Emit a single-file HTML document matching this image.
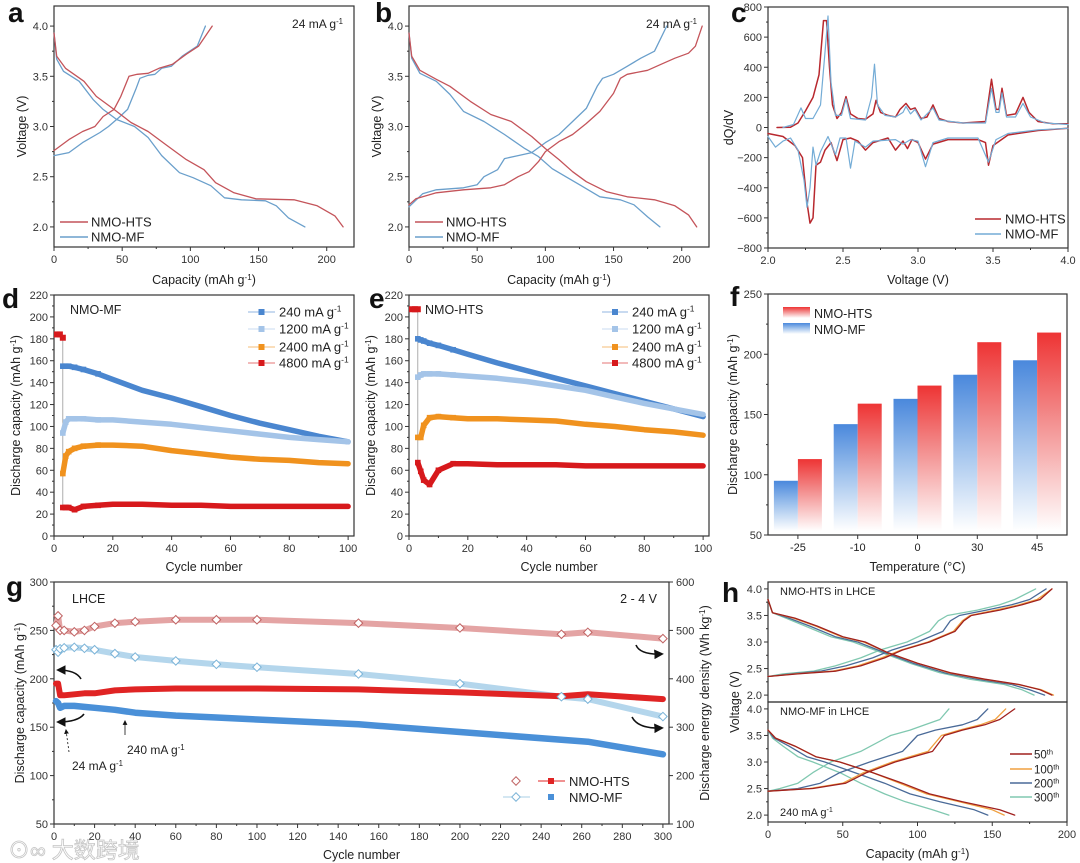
<!DOCTYPE html>
<html><head><meta charset="utf-8"><style>
html,body{margin:0;padding:0;background:#fff;}
svg{display:block;font-family:"Liberation Sans","Noto Sans CJK SC",sans-serif;}
</style></head><body>
<svg id="fig" width="1080" height="863" viewBox="0 0 1080 863" xmlns="http://www.w3.org/2000/svg">
<defs>
<linearGradient id="gRed" x1="0" y1="0" x2="0" y2="1"><stop offset="0" stop-color="#ee3434"/><stop offset="0.45" stop-color="#f39090"/><stop offset="1" stop-color="#ffffff"/></linearGradient>
<linearGradient id="gBlue" x1="0" y1="0" x2="0" y2="1"><stop offset="0" stop-color="#4a88dc"/><stop offset="0.45" stop-color="#9cc0ec"/><stop offset="1" stop-color="#ffffff"/></linearGradient>
<marker id="ah" viewBox="0 0 10 10" refX="8" refY="5" markerWidth="6" markerHeight="6" orient="auto"><path d="M0,0L10,5L0,10z" fill="#111"/></marker>
</defs>
</svg>
<script>
// ---------- DATA ----------
const aHtsChgCap=[0,10.9,21,30,36,44,49,55,61,69,77,87,97,106,116];
const aHtsChgV=[2.76,2.87,2.95,3.0,3.10,3.17,3.30,3.50,3.52,3.53,3.58,3.62,3.72,3.80,4.0];
const aMfChgCap=[0,10.9,21,33.7,40,47.6,54,60,63,69,74,79,86,94,105,111];
const aMfChgV=[2.71,2.74,2.84,2.94,3.0,3.09,3.17,3.37,3.48,3.51,3.52,3.58,3.60,3.70,3.80,4.0];
const aHtsDisCap=[0,2,8.4,22,31,44,56.5,69,82,97,110,118.5,132,148,176,193,206,212];
const aHtsDisV=[3.93,3.70,3.58,3.45,3.30,3.17,3.04,2.95,2.82,2.67,2.57,2.44,2.34,2.28,2.27,2.21,2.11,2.0];
const aMfDisCap=[0,2,7,18.5,28.6,36,46,59,69,79,92,102,115,125,137.5,155,163,172,184];
const aMfDisV=[3.93,3.67,3.55,3.45,3.27,3.17,3.07,3.0,2.89,2.71,2.54,2.49,2.41,2.29,2.27,2.26,2.21,2.09,2.0];
const bHtsChgCap=[0,5,20,40,60,70,80,88,95,100,110,120,130,140,150,155,160,175,185,195,205,210,215];
const bHtsChgV=[2.22,2.28,2.34,2.37,2.39,2.42,2.5,2.55,2.65,2.75,2.85,2.92,3.03,3.15,3.33,3.48,3.52,3.56,3.62,3.68,3.73,3.8,4.0];
const bMfChgCap=[0,10,20,40,50,55,65,70,80,90,100,110,120,130,138,142,150,160,170,180,189];
const bMfChgV=[2.2,2.33,2.37,2.39,2.42,2.5,2.57,2.68,2.71,2.74,2.84,2.92,3.05,3.18,3.4,3.48,3.52,3.6,3.68,3.75,4.0];
const bHtsDisCap=[0,2,8,20,30,45,60,75,90,100,110,120,130,145,160,180,195,205,211];
const bHtsDisV=[3.93,3.7,3.56,3.47,3.4,3.25,3.12,3.05,2.9,2.78,2.67,2.55,2.45,2.35,2.3,2.27,2.21,2.12,2.0];
const bMfDisCap=[0,2,8,20,30,40,55,70,85,95,105,115,125,140,155,165,175,184];
const bMfDisV=[3.93,3.68,3.53,3.45,3.32,3.15,3.05,2.92,2.78,2.7,2.58,2.5,2.42,2.3,2.27,2.22,2.1,2.0];
const cHtsPosV=[2.06,2.15,2.2,2.25,2.3,2.34,2.37,2.39,2.41,2.43,2.46,2.49,2.52,2.55,2.6,2.65,2.7,2.72,2.75,2.8,2.85,2.88,2.92,2.95,2.98,3.02,3.06,3.1,3.14,3.2,3.3,3.45,3.49,3.52,3.54,3.56,3.59,3.65,3.7,3.74,3.8,3.9,4.0];
const cHtsPosQ=[0,2,30,110,200,350,710,710,400,150,60,100,205,90,60,55,90,180,100,80,70,120,160,120,130,60,70,150,60,40,30,40,320,120,120,260,80,90,200,100,40,25,25];
const cMfPosV=[2.1,2.17,2.22,2.25,2.3,2.35,2.38,2.40,2.42,2.45,2.49,2.52,2.55,2.65,2.69,2.71,2.73,2.78,2.85,2.9,2.92,2.95,2.98,3.02,3.1,3.14,3.3,3.45,3.49,3.52,3.54,3.56,3.59,3.65,3.7,3.75,3.85,4.0];
const cMfPosQ=[0,20,130,60,60,150,500,740,300,80,80,190,60,50,200,420,150,80,70,100,140,90,120,50,130,50,30,30,260,100,100,230,70,70,160,70,30,20];
const cHtsNegV=[2.0,2.1,2.18,2.23,2.26,2.28,2.30,2.32,2.35,2.38,2.42,2.46,2.5,2.55,2.6,2.65,2.7,2.8,2.85,2.9,2.93,2.96,3.0,3.05,3.1,3.2,3.4,3.45,3.47,3.5,3.6,3.8,4.0];
const cHtsNegQ=[-40,-60,-120,-200,-500,-635,-600,-250,-230,-150,-100,-220,-80,-70,-90,-150,-100,-70,-150,-90,-140,-80,-100,-210,-110,-80,-80,-100,-250,-120,-50,-20,-5];
const cMfNegV=[2.0,2.05,2.1,2.15,2.2,2.24,2.26,2.28,2.3,2.32,2.35,2.4,2.45,2.48,2.52,2.55,2.58,2.65,2.7,2.85,2.9,2.95,3.0,3.05,3.1,3.2,3.4,3.47,3.52,3.6,3.8,4.0];
const cMfNegQ=[-60,-130,-90,-70,-150,-350,-530,-400,-130,-250,-160,-60,-180,-70,-70,-270,-90,-130,-90,-80,-110,-80,-90,-260,-100,-70,-70,-230,-80,-40,-15,-5];
const rateCycles=[3,4,5,7,10,15,20,30,40,50,60,70,80,90,100];
const initCycles=[1,2,3];
const dInit=[184,184,181];
const d240=[155,155,155,154,152,148,143,133,126,118,110,103,97,91,86];
const d1200=[94,104,107,107,107,106,106,104,102,99,96,93,90,88,86];
const d2400=[57,73,77,80,82,83,83,82,78,75,72,70,69,67,66];
const d4800=[26,26,26,24,27,28,29,29,28,28,27,27,27,27,27];
const eInit=[207,207,207];
const e240=[180,179,178,176,174,170,166,158,151,144,137,130,123,116,109];
const e1200=[145,147,148,148,148,147,146,144,141,137,133,127,121,116,111];
const e2400=[90,90,101,108,109,108,107,107,106,105,102,100,97,95,92];
const e4800=[67,59,51,47,60,66,66,65,65,65,64,64,64,64,64];
const fTemps=["-25","-10","0","30","45"];
const fMf=[95,142,163,183,195];
const fHts=[113,159,174,210,218];
const gCycles=[1,2,3,5,10,15,20,30,40,60,80,100,150,200,250,263,300];
const gHtsE=[510,530,500,500,497,500,508,515,518,522,522,522,515,505,492,496,483];
const gMfE=[460,455,462,464,465,463,460,452,445,437,430,424,410,390,363,358,322];
const gHtsC=[195,195,183,183,184,185,185,188,189,190,190,190,189,186,182,184,179];
const gMfC=[177,175,170,172,172,171,170,168,165,162,160,158,153,145,137,135,122];
const hCycleLabels=["50","100","200","300"];
const hTopChgV=[2.35,2.4,2.45,2.55,2.7,2.85,3.0,3.2,3.4,3.5,3.6,3.7,3.8,4.0];
const hTopChgCap=[[0,20,45,62,78,90,108,125,131,136,155,170,182,190],[0,18,43,60,76,89,107,124,130,135,152,168,180,190],[0,15,35,52,70,83,100,117,122,128,146,163,175,186],[0,10,30,45,62,75,93,108,114,120,140,155,165,179]];
const hTopDisV=[3.8,3.55,3.45,3.3,3.1,3.0,2.8,2.6,2.42,2.3,2.2,2.1,2.0];
const hTopDisCap=[[0,3,18,33,50,65,80,100,122,145,168,182,190],[0,3,17,32,49,64,80,100,121,144,167,183,191],[0,3,14,28,45,60,78,97,118,140,163,175,185],[0,3,12,25,42,57,76,95,115,135,158,170,178]];
const hBotChgV=[2.45,2.5,2.6,2.8,3.0,3.2,3.5,3.6,3.7,3.8,4.0];
const hBotChgCap=[[0,30,52,66,85,110,118,130,145,155,165],[0,28,50,64,83,107,116,128,142,152,159],[0,20,35,48,68,90,100,112,130,140,147],[0,8,20,30,42,62,82,95,105,115,121]];
const hBotDisV=[3.6,3.45,3.3,3.1,3.0,2.8,2.6,2.4,2.25,2.1,2.0];
const hBotDisCap=[[0,5,18,32,48,70,90,108,130,155,165],[0,5,18,32,48,70,88,106,128,150,158],[0,4,14,26,38,58,78,95,115,138,147],[0,3,10,20,30,48,62,78,92,110,121]];

// ---------- HELPERS ----------
const NS="http://www.w3.org/2000/svg";
const svg=document.getElementById('fig');
function mk(tag,a,p){const e=document.createElementNS(NS,tag);for(const k in a)e.setAttribute(k,a[k]);(p||svg).appendChild(e);return e;}
function lin(d0,d1,r0,r1){return v=>r0+(v-d0)/(d1-d0)*(r1-r0);}
function txt(x,y,s,size,anchor,p,extra){
  const t=mk('text',Object.assign({x:x,y:y,'font-size':size,'text-anchor':anchor||'start',fill:'#222'},extra||{}),p);
  const parts=s.split('|');
  parts.forEach((pt,i)=>{if(!pt)return;const ts=mk('tspan',{},t);ts.textContent=pt;
    if(i%2===1){ts.setAttribute('baseline-shift','super');ts.setAttribute('font-size',size*0.65);}});
  return t;
}
function grp(){return mk('g',{});}
function axes(o){
  const g=grp();
  
  
  const sx=lin(o.xd[0],o.xd[1],o.x0,o.x1), sy=lin(o.yd[0],o.yd[1],o.y1,o.y0);
  const fr=mk('rect',{x:o.x0,y:o.y0,width:o.x1-o.x0,height:o.y1-o.y0,fill:'none',stroke:'#333','stroke-width':1.2},g);
  
  
  if(o.xt){o.xt.forEach((v,i)=>{const x=sx(v);mk('line',{x1:x,x2:x,y1:o.y1,y2:o.y1+4,stroke:'#333'},g);
    if(o.xl){const t=txt(x,o.y1+16,o.xl[i],11,'middle',g,{fill:'#333'});}});}
  if(o.xm){o.xm.forEach(v=>{const x=sx(v);mk('line',{x1:x,x2:x,y1:o.y1,y2:o.y1+2,stroke:'#333'},g);});}
  if(o.yt){o.yt.forEach((v,i)=>{const y=sy(v);mk('line',{x1:o.x0-4,x2:o.x0,y1:y,y2:y,stroke:'#333'},g);
    if(o.yl){const t=txt(o.x0-6,y+4,o.yl[i],11,'end',g,{fill:'#333'});}});}
  if(o.ym){o.ym.forEach(v=>{const y=sy(v);mk('line',{x1:o.x0-2,x2:o.x0,y1:y,y2:y,stroke:'#333'},g);});}
  if(o.xtitle){const t=txt((o.x0+o.x1)/2,o.xty,o.xtitle,12.5,'middle',g);}
  if(o.ytitle){const t=txt(0,0,o.ytitle,12.5,'middle',g,{transform:`translate(${o.ytx},${(o.y0+o.y1)/2}) rotate(-90)`});}
  return {sx,sy,g};
}
function curve(ax,xs,ys,color,w,name){
  const d=xs.map((x,i)=>(i?'L':'M')+ax.sx(x).toFixed(1)+','+ax.sy(ys[i]).toFixed(1)).join('');
  const p=mk('path',{d:d,fill:'none',stroke:color,'stroke-width':w||1.3,'stroke-linejoin':'round','stroke-linecap':'round'});
  
  
  return p;
}
function panelLabel(x,y,s){const t=txt(x,y,s,28,'start',svg,{'font-weight':'bold',fill:'#111'});}
function legLine(x1,x2,y,color,label,tx,size){
  const l=mk('line',{x1:x1,x2:x2,y1:y,y2:y,stroke:color,'stroke-width':1.6});
  
  
  const t=txt(tx,y+4.5,label,size||13,'start');
  
  
}
const RED='#c4545a', BLUE='#6a9fcb';

// ---------- PANEL A ----------
panelLabel(8,22,'a');
const axA=axes({name:'panel-a',x0:54,x1:354,y0:6,y1:247,xd:[0,220],yd:[1.8,4.2],xt:[0,50,100,150,200],xl:['0','50','100','150','200'],xm:[25,75,125,175],yt:[2,2.5,3,3.5,4],yl:['2.0','2.5','3.0','3.5','4.0'],ym:[2.25,2.75,3.25,3.75],xtitle:'Capacity (mAh g|-1|)',xty:284,ytitle:'Voltage (V)',ytx:26});
curve(axA,aMfChgCap,aMfChgV,BLUE,1.3,'a-mf-charge');
curve(axA,aMfDisCap,aMfDisV,BLUE,1.3,'a-mf-discharge');
curve(axA,aHtsChgCap,aHtsChgV,RED,1.3,'a-hts-charge');
curve(axA,aHtsDisCap,aHtsDisV,RED,1.3,'a-hts-discharge');
legLine(60,88,222,RED,'NMO-HTS',91);
legLine(60,88,237,BLUE,'NMO-MF',91);
{const t=txt(343,28,'24 mA g|-1|',12,'end');}

// ---------- PANEL B ----------
panelLabel(375,22,'b');
const axB=axes({name:'panel-b',x0:409,x1:709,y0:6,y1:247,xd:[0,220],yd:[1.8,4.2],xt:[0,50,100,150,200],xl:['0','50','100','150','200'],xm:[25,75,125,175],yt:[2,2.5,3,3.5,4],yl:['2.0','2.5','3.0','3.5','4.0'],ym:[2.25,2.75,3.25,3.75],xtitle:'Capacity (mAh g|-1|)',xty:284,ytitle:'Voltage (V)',ytx:381});
curve(axB,bMfChgCap,bMfChgV,BLUE,1.3,'b-mf-charge');
curve(axB,bMfDisCap,bMfDisV,BLUE,1.3,'b-mf-discharge');
curve(axB,bHtsChgCap,bHtsChgV,RED,1.3,'b-hts-charge');
curve(axB,bHtsDisCap,bHtsDisV,RED,1.3,'b-hts-discharge');
legLine(415,443,222,RED,'NMO-HTS',446);
legLine(415,443,237,BLUE,'NMO-MF',446);
{const t=txt(697,28,'24 mA g|-1|',12,'end');}

// ---------- PANEL C ----------
panelLabel(731,22,'c');
const axC=axes({name:'panel-c',x0:768,x1:1068,y0:7,y1:248,xd:[2,4],yd:[-800,800],xt:[2,2.5,3,3.5,4],xl:['2.0','2.5','3.0','3.5','4.0'],xm:[2.25,2.75,3.25,3.75],yt:[-800,-600,-400,-200,0,200,400,600,800],yl:['\u2212800','\u2212600','\u2212400','\u2212200','0','200','400','600','800'],ym:[-700,-500,-300,-100,100,300,500,700],xtitle:'Voltage (V)',xty:284,ytitle:'dQ/dV',ytx:733});
curve(axC,cHtsPosV,cHtsPosQ,'#b8282e',1.5,'c-hts-charge');
curve(axC,cHtsNegV,cHtsNegQ,'#b8282e',1.5,'c-hts-discharge');
curve(axC,cMfPosV,cMfPosQ,'#74acd6',1.2,'c-mf-charge');
curve(axC,cMfNegV,cMfNegQ,'#74acd6',1.2,'c-mf-discharge');
legLine(975,1001,219,'#b8282e','NMO-HTS',1005);
legLine(975,1001,234,'#74acd6','NMO-MF',1005);

// ---------- PANELS D / E ----------
function ratePanel(o){
  const ax=axes({name:o.name,x0:o.x0,x1:o.x0+300,y0:295,y1:536,xd:[0,102],yd:[0,220],xt:[0,20,40,60,80,100],xl:['0','20','40','60','80','100'],xm:[10,30,50,70,90],yt:[0,20,40,60,80,100,120,140,160,180,200,220],yl:['0','20','40','60','80','100','120','140','160','180','200','220'],ym:[10,30,50,70,90,110,130,150,170,190,210],xtitle:'Cycle number',xty:571,ytitle:'Discharge capacity (mAh g|-1|)',ytx:o.x0-34});
  const series=[[o.s240,'#4a86cf','240'],[o.s1200,'#a4c4e8','1200'],[o.s2400,'#f0921e','2400'],[o.s4800,'#d7191c','4800']];
  curve(ax,[initCycles[2],rateCycles[0]],[o.init[2],o.s4800[0]],'#999',0.8,o.name+'-connector');
  series.forEach(s=>{
    curve(ax,rateCycles,s[0],s[1],5.5,o.name+'-series-'+s[2]);
    rateCycles.forEach((c,i)=>{if(i>5)return;const r=mk('rect',{x:ax.sx(c)-2.8,y:ax.sy(s[0][i])-2.8,width:5.6,height:5.6,fill:s[1]});
      
      });
  });
  initCycles.forEach((c,i)=>{const r=mk('rect',{x:ax.sx(c)-3,y:ax.sy(o.init[i])-3,width:6,height:6,fill:'#d7191c'});
    
    });
  const t=txt(o.tagX,314,o.tag,12.5,'start');
  
  
  const labs=['240 mA g|-1|','1200 mA g|-1|','2400 mA g|-1|','4800 mA g|-1|'];
  const ys=[312,329,347,363];
  series.forEach((s,i)=>{
    const l=mk('line',{x1:o.lx1,x2:o.lx2,y1:ys[i],y2:ys[i],stroke:s[1],'stroke-width':1,opacity:0.6});
    
    
    const m=mk('rect',{x:(o.lx1+o.lx2)/2-3,y:ys[i]-3,width:6,height:6,fill:s[1]});
    
    
    const tt=txt(o.lx2+4,ys[i]+4.5,labs[i],13,'start');
    
    
  });
}
panelLabel(2,308,'d');
ratePanel({name:'panel-d',x0:54,init:dInit,s240:d240,s1200:d1200,s2400:d2400,s4800:d4800,tag:'NMO-MF',tagX:70,lx1:248,lx2:275});
panelLabel(369,308,'e');
ratePanel({name:'panel-e',x0:409,init:eInit,s240:e240,s1200:e1200,s2400:e2400,s4800:e4800,tag:'NMO-HTS',tagX:425,lx1:602,lx2:628});

// ---------- PANEL F ----------
panelLabel(730,306,'f');
const axF=axes({name:'panel-f',x0:768,x1:1067,y0:294,y1:535,xd:[0,5],yd:[50,250],yt:[50,100,150,200,250],yl:['50','100','150','200','250'],ym:[75,125,175,225],xtitle:'Temperature (\u00b0C)',xty:571,ytitle:'Discharge capacity (mAh g|-1|)',ytx:737});
fTemps.forEach((tp,i)=>{
  const cx=axF.sx(i+0.5);
  const b1=mk('rect',{x:cx-24,y:axF.sy(fMf[i]),width:24,height:axF.sy(50)-axF.sy(fMf[i])-4,fill:'url(#gBlue)'});
  
  
  const b2=mk('rect',{x:cx,y:axF.sy(fHts[i]),width:24,height:axF.sy(50)-axF.sy(fHts[i])-4,fill:'url(#gRed)'});
  
  
  mk('line',{x1:cx,x2:cx,y1:535,y2:539,stroke:'#333'},axF.g);
  const t=txt(cx,551,tp,11,'middle');
  
  
});
{const s1=mk('rect',{x:783,y:307,width:27,height:11,fill:'url(#gRed)'});
const s2=mk('rect',{x:783,y:323,width:27,height:11,fill:'url(#gBlue)'});
const t1=txt(814,318,'NMO-HTS',12.5);
const t2=txt(814,334,'NMO-MF',12.5);}

// ---------- PANEL G ----------
panelLabel(6,596,'g');
const axG=axes({name:'panel-g',x0:54,x1:669,y0:582,y1:824,xd:[0,303],yd:[50,300],xt:[0,20,40,60,80,100,120,140,160,180,200,220,240,260,280,300],xl:['0','20','40','60','80','100','120','140','160','180','200','220','240','260','280','300'],xm:[10,30,50,70,90,110,130,150,170,190,210,230,250,270,290],yt:[50,100,150,200,250,300],yl:['50','100','150','200','250','300'],ym:[75,125,175,225,275],xtitle:'Cycle number',xty:859,ytitle:'Discharge capacity (mAh g|-1|)',ytx:24});
const syE=lin(100,600,824,582);
[100,200,300,400,500,600].forEach(v=>{const y=syE(v);mk('line',{x1:669,x2:673,y1:y,y2:y,stroke:'#333'},axG.g);
  const t=txt(676,y+4,String(v),11,'start',axG.g,{fill:'#333'});});
{const t=txt(0,0,'Discharge energy density (Wh kg|-1|)',12.5,'middle',svg,{transform:'translate(709,703) rotate(-90)'});}
const axGE={sx:axG.sx,sy:syE};
curve(axGE,gCycles,gHtsE,'#e4a4a4',6,'g-hts-energy');
curve(axGE,gCycles,gMfE,'#b4d6ec',6,'g-mf-energy');
curve(axG,gCycles,gHtsC,'#e02424',6,'g-hts-capacity');
curve(axG,gCycles,gMfC,'#4a90d8',6.5,'g-mf-capacity');
gCycles.forEach((c,i)=>{
  const x=axG.sx(c);
  const d1=mk('rect',{x:x-3,y:syE(gHtsE[i])-3,width:6,height:6,fill:'#fff',stroke:'#c06464','stroke-width':1,transform:`rotate(45 ${x} ${syE(gHtsE[i])})`});
  
  
  const d2=mk('rect',{x:x-3,y:syE(gMfE[i])-3,width:6,height:6,fill:'#fff',stroke:'#7cb4d8','stroke-width':1,transform:`rotate(45 ${x} ${syE(gMfE[i])})`});
  
  
});
{const t=txt(72,603,'LHCE',12.5);
const t2=txt(657,603,'2 - 4 V',12.5,'end');
const t3=txt(127,754,'240 mA g|-1|',12);
const t4=txt(72,770,'24 mA g|-1|',12);
const a1=mk('line',{x1:125,y1:735,x2:125,y2:721,stroke:'#111','stroke-width':0.8,'marker-end':'url(#ah)'});
const a2=mk('line',{x1:69,y1:752,x2:66,y2:730,stroke:'#111','stroke-width':0.8,'stroke-dasharray':'2,2','marker-end':'url(#ah)'});
const c1=mk('path',{d:'M81,679 Q76,670 58,670',fill:'none',stroke:'#111','stroke-width':1.6,'marker-end':'url(#ah)'});
const c2=mk('path',{d:'M84,714 Q78,722 58,722',fill:'none',stroke:'#111','stroke-width':1.6,'marker-end':'url(#ah)'});
const c3=mk('path',{d:'M636,645 Q640,655 662,654',fill:'none',stroke:'#111','stroke-width':1.6,'marker-end':'url(#ah)'});
const c4=mk('path',{d:'M632,717 Q638,729 662,728',fill:'none',stroke:'#111','stroke-width':1.6,'marker-end':'url(#ah)'});}
{
 const d1=mk('rect',{x:513,y:778,width:6,height:6,fill:'#fff',stroke:'#c06464',transform:'rotate(45 516 781)'});
 const l1=mk('line',{x1:538,x2:565,y1:781,y2:781,stroke:'#e02424'});
 const s1=mk('rect',{x:548,y:778,width:6,height:6,fill:'#e02424'});
 const l2=mk('line',{x1:503,x2:530,y1:797,y2:797,stroke:'#a8cfe6'});
 const d2=mk('rect',{x:513,y:794,width:6,height:6,fill:'#fff',stroke:'#7cb4d8',transform:'rotate(45 516 797)'});
 const s2=mk('rect',{x:548,y:794,width:6,height:6,fill:'#4a90d8'});
 const t1=txt(569,786,'NMO-HTS',13);
 const t2=txt(569,802,'NMO-MF',13);}
{const w=txt(8,858,'\u2299\u221e \u5927\u6570\u8de8\u5883',22,'start',svg,{fill:'#fff',stroke:'#bbb','stroke-width':0.8,opacity:0.85});}

// ---------- PANEL H ----------
panelLabel(722,602,'h');
const hColors=['#a0201e','#f0a040','#4a6a98','#80c8b0'];
const axHT=axes({name:'panel-h-top',x0:768,x1:1067,y0:582,y1:702,xd:[0,200],yd:[1.87,4.13],yt:[2,2.5,3,3.5,4],yl:['2.0','2.5','3.0','3.5','4.0'],ym:[2.25,2.75,3.25,3.75]});
const axHB=axes({name:'panel-h-bottom',x0:768,x1:1067,y0:702,y1:822,xd:[0,200],yd:[1.87,4.13],xt:[0,50,100,150,200],xl:['0','50','100','150','200'],xm:[25,75,125,175],yt:[2,2.5,3,3.5,4],yl:['2.0','2.5','3.0','3.5','4.0'],ym:[2.25,2.75,3.25,3.75],xtitle:'Capacity (mAh g|-1|)',xty:858});
{const t=txt(0,0,'Voltage (V)',12.5,'middle',svg,{transform:'translate(739,702) rotate(-90)'});}
[3,2,1,0].forEach(i=>{
  curve(axHT,hTopChgCap[i],hTopChgV,hColors[i],1.3,'h-hts-charge-'+hCycleLabels[i]);
  curve(axHT,hTopDisCap[i],hTopDisV,hColors[i],1.3,'h-hts-discharge-'+hCycleLabels[i]);
  curve(axHB,hBotChgCap[i],hBotChgV,hColors[i],1.3,'h-mf-charge-'+hCycleLabels[i]);
  curve(axHB,hBotDisCap[i],hBotDisV,hColors[i],1.3,'h-mf-discharge-'+hCycleLabels[i]);
});
{const t1=txt(780,595,'NMO-HTS in LHCE',11);
const t2=txt(780,715,'NMO-MF in LHCE',11);
const t3=txt(780,816,'240 mA g|-1|',11);}
[754,769,783,797].forEach((y,i)=>{legLine(1010,1032,y,hColors[i],hCycleLabels[i]+'|th|',1034,11.5);});
</script>
</body></html>
